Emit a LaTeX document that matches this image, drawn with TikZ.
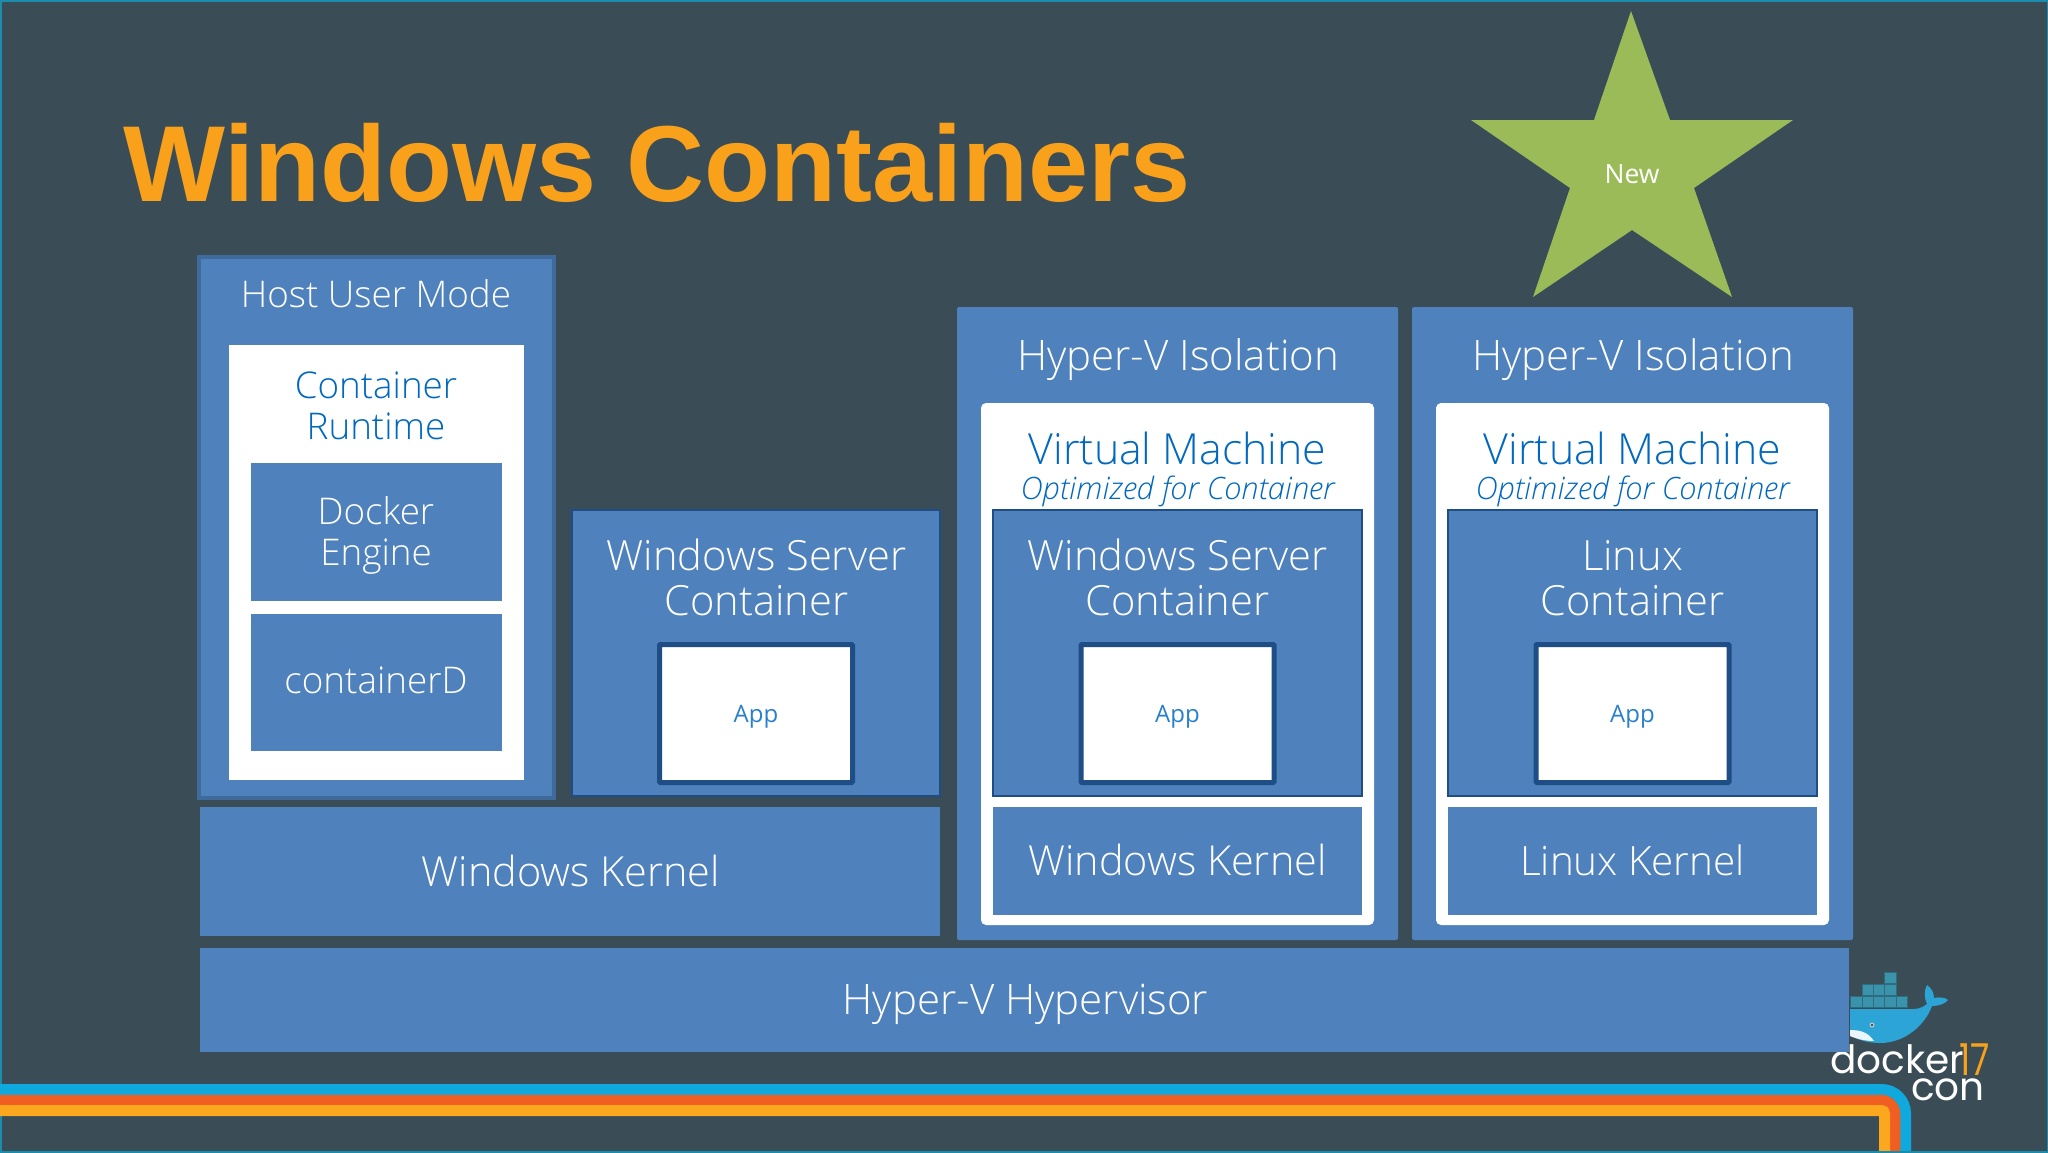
\documentclass[tikz,border=0pt]{standalone}
\usepackage{fontspec}
\setmainfont{Open Sans}[UprightFont=* Light,ItalicFont=* Light Italic]
\newfontfamily\regfont{Open Sans}
\newfontfamily\titlefont{Liberation Sans}
\newfontfamily\logofont{Poppins}
\definecolor{bg}{HTML}{3A4D56}
\definecolor{frameC}{HTML}{1B8CAB}
\definecolor{blueB}{HTML}{4F81BD}
\definecolor{edgeB}{HTML}{3F6A9C}
\definecolor{thinB}{HTML}{1F4E87}
\definecolor{textB}{HTML}{0068BE}
\definecolor{appT}{HTML}{2A80CC}
\definecolor{starG}{HTML}{9BBB59}
\definecolor{titleO}{HTML}{F9A11B}
\definecolor{stripeB}{HTML}{0FA9DE}
\definecolor{stripeR}{HTML}{F15E22}
\definecolor{stripeY}{HTML}{FBA81E}
\definecolor{whaleB}{HTML}{2CA5D6}
\definecolor{boxT}{HTML}{3A93AB}
\tikzset{
  x=1pt,y=-1pt,
  plain/.style={inner sep=0pt,outer sep=0pt,anchor=north west},
  blue/.style={plain,fill=blueB},
  hostbox/.style={plain,fill=blueB,draw=edgeB,line width=3.5pt},
  thin/.style={plain,fill=blueB,draw=thinB,line width=1.5pt},
  whitebox/.style={plain,fill=white},
  vmbox/.style={plain,fill=white,rounded corners=5pt},
  isobox/.style={plain,fill=blueB,rounded corners=2pt},
  appbox/.style={plain,fill=white,draw=thinB,line width=5pt,rounded corners=1pt},
  lab/.style={anchor=base,inner sep=0pt,text=white},
  bluelab/.style={anchor=base,inner sep=0pt,text=textB},
  applab/.style={anchor=base,inner sep=0pt,text=appT},
}
\newcommand{\rbox}[6]{%
  \pgfmathsetmacro{\rw}{#5-#3}\pgfmathsetmacro{\rh}{#6-#4}%
  \node[#2,minimum width=\rw pt,minimum height=\rh pt] (#1) at (#3,#4) {};}
\newcommand{\sz}[1]{\fontsize{#1}{#1}\selectfont}
\begin{document}
\begin{tikzpicture}
\useasboundingbox (0,0) rectangle (2048,1152);
\fill[bg] (0,0) rectangle (2048,1152);
\draw[frameC,line width=3pt] (0,0) rectangle (2048,1152);
% stripes
\draw[stripeB,line width=11pt,rounded corners=24pt] (0,1089.5) -- (1905.5,1089.5) -- (1905.5,1153);
\draw[stripeR,line width=10.5pt,rounded corners=14pt] (0,1100) -- (1895,1100) -- (1895,1153);
\draw[stripeY,line width=11pt,rounded corners=3pt] (0,1110.5) -- (1884.5,1110.5) -- (1884.5,1153);
\draw[frameC,line width=3pt] (0,1152) -- (2048,1152);
% title
\node[anchor=base west,inner sep=0pt,text=titleO] (title) at (123.5,201) {\titlefont\bfseries\sz{108}Windows Containers};
% star
\fill[starG] (1631,11) -- (1670,120) -- (1793,120) -- (1694,188) -- (1732,297) -- (1632,230) -- (1533,297) -- (1570,188) -- (1471,120) -- (1594,120) -- cycle;
\node[lab] (new) at (1632,183) {\regfont\sz{26.5}New};
% docker logo
\foreach \a/\b/\c/\d in {1850/996/1862/1007,1862/996/1873/1007,1873/996/1884/1007,1884/996/1896/1007,1896/996/1907/1007,1862/984/1873/995,1873/984/1884/995,1884/984/1896/995,1884/972/1896/983}
  \fill[boxT,draw=boxT!75!black,line width=.3pt] (\a,\b) rectangle (\c,\d);
\fill[whaleB] (1850,1009) -- (1908,1009) .. controls (1916,1010) and (1922,1008) .. (1927,1004) .. controls (1924,998) and (1924,990) .. (1927,985) .. controls (1931,988) and (1934,992) .. (1934,998) .. controls (1938,997) and (1945,997) .. (1948,1000) .. controls (1945,1004) and (1938,1006) .. (1932,1006) .. controls (1925,1025) and (1905,1043) .. (1880,1043) .. controls (1868,1043) and (1858,1040) .. (1850,1035) -- cycle;
\fill[white!90!whaleB] (1850,1030) .. controls (1860,1030) and (1868,1032) .. (1874,1041) .. controls (1865,1041) and (1857,1039) .. (1850,1036) -- cycle;
\fill[white!70!bg] (1872,1025) circle (2.5pt);
\fill[bg] (1872,1025) circle (1.3pt);
\node[anchor=base west,inner sep=0pt,text=white] (dk) at (1830,1073) {\logofont\sz{39}docker};
\node[anchor=base west,inner sep=0pt,text=titleO,xscale=.8] (dk17) at (1959,1075) {\logofont\sz{44}17};
\node[anchor=base east,inner sep=0pt,text=white] (dkcon) at (1985,1100) {\logofont\sz{39}con};
% host
\rbox{host}{hostbox}{199}{257}{554}{798}
\rbox{hostw}{whitebox}{229}{345}{524}{780}
\rbox{engine}{blue}{251}{463}{502}{601}
\rbox{cd}{blue}{251}{614}{502}{751}
\node[lab] (t1) at (376,307) {\sz{36.8}Host User Mode};
\node[bluelab] (t2) at (376,398) {\sz{36.8}Container};
\node[bluelab] (t3) at (376,439) {\sz{36.8}Runtime};
\node[lab] (t4) at (376,524) {\sz{36.8}Docker};
\node[lab] (t5) at (376,565) {\sz{36.8}Engine};
\node[lab] (t6) at (376,693) {\sz{36.8}containerD};
% windows server
\rbox{ws}{thin}{572}{510}{940}{796}
\node[lab] (t7) at (756.5,570) {\sz{41.6}Windows Server};
\node[lab] (t8) at (756.5,615) {\sz{41.6}Container};
\rbox{app1}{appbox}{659.5}{644.5}{852.5}{782.5}
\node[applab] (a1) at (756,722) {\regfont\sz{24}App};
% kernel + hv
\rbox{wk}{blue}{200}{807}{940}{936}
\node[lab] (t9) at (571,886) {\sz{41.4}Windows Kernel};
\rbox{hv}{blue}{200}{948}{1849}{1052}
\node[lab] (t10) at (1025.5,1014) {\sz{42}Hyper-V Hypervisor};
% iso 1
\rbox{iso1}{isobox}{957}{307}{1398}{940}
\node[lab] (i1) at (1178,370) {\sz{42}Hyper-V Isolation};
\rbox{vm1}{vmbox}{981}{403}{1374}{925}
\node[bluelab] (i2) at (1177.5,464) {\sz{42.8}Virtual Machine};
\node[bluelab] (i3) at (1177.5,499) {\sz{30.8}\itshape Optimized for Container};
\rbox{c1}{thin}{993}{510}{1362}{796}
\node[lab] (i4) at (1177.5,570) {\sz{41.6}Windows Server};
\node[lab] (i5) at (1177.5,615) {\sz{41.6}Container};
\rbox{app2}{appbox}{1081}{644.5}{1274}{782.5}
\node[applab] (a2) at (1177.5,722) {\regfont\sz{24}App};
\rbox{k1}{blue}{993}{807}{1362}{915}
\node[lab] (i6) at (1177.5,875) {\sz{41.4}Windows Kernel};
% iso 2
\rbox{iso2}{isobox}{1412}{307}{1853}{940}
\node[lab] (j1) at (1633,370) {\sz{42}Hyper-V Isolation};
\rbox{vm2}{vmbox}{1436}{403}{1829}{925}
\node[bluelab] (j2) at (1632.5,464) {\sz{42.8}Virtual Machine};
\node[bluelab] (j3) at (1632.5,499) {\sz{30.8}\itshape Optimized for Container};
\rbox{c2}{thin}{1448}{510}{1817}{796}
\node[lab] (j4) at (1632.5,570) {\sz{41.6}Linux};
\node[lab] (j5) at (1632.5,615) {\sz{41.6}Container};
\rbox{app3}{appbox}{1536}{644.5}{1729}{782.5}
\node[applab] (a3) at (1632.5,722) {\regfont\sz{24}App};
\rbox{k2}{blue}{1448}{807}{1817}{915}
\node[lab] (j6) at (1632.5,875) {\sz{40.4}Linux Kernel};
\end{tikzpicture}
\end{document}
